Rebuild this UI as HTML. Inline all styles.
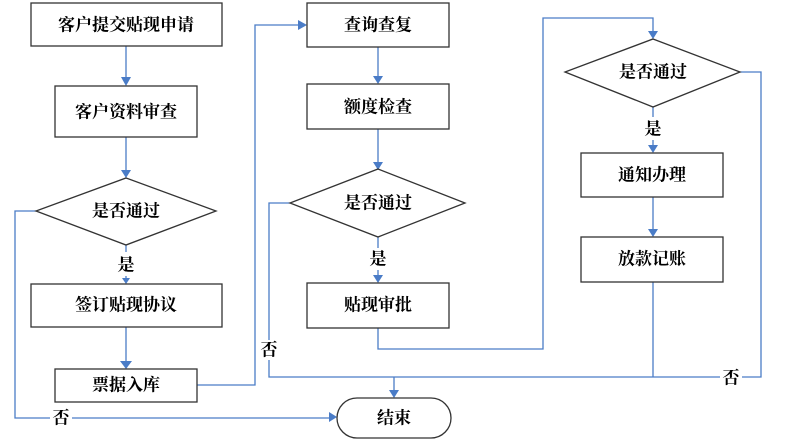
<!DOCTYPE html>
<html><head><meta charset="utf-8"><style>
body{margin:0;background:#fff;}
svg{display:block;}
text{font-family:"Liberation Serif","Noto Serif CJK SC",serif;font-size:17px;font-weight:bold;fill:#000;text-anchor:middle;dominant-baseline:central;}
.b{fill:#fff;stroke:#333;stroke-width:1.3;}
.l{fill:none;stroke:#4a7cc7;stroke-width:1.3;}
.a{fill:#4a7cc7;}
</style></head><body>
<svg width="785" height="444" viewBox="0 0 785 444">
<g class="l">
<path d="M126 46V77"/><path d="M126 137V170"/><path d="M126 245V252M126 276V278"/>
<path d="M126 327V361"/>
<path d="M36 211H15V418H50M72 418H329"/>
<path d="M197 385H255V25H298"/>
<path d="M378 47V76"/><path d="M378 129V162"/><path d="M378 237V248M378 270V277"/>
<path d="M378 328V349H543V18H653V31"/>
<path d="M290 203H269V340M269 360V377H720M742 377H761V72H740"/>
<path d="M653 107V117M653 140V145"/><path d="M653 197V229"/><path d="M653 282V377"/>
<path d="M394 377V390"/>
</g>
<g class="a">
<path d="M121 77H131L126 86Z"/><path d="M121 170H131L126 178Z"/><path d="M122 278H130L126 284Z"/>
<path d="M120 361H132L126 369Z"/>
<path d="M298 20V30L307 25Z"/>
<path d="M373 76H383L378 84Z"/><path d="M373 162H383L378 170Z"/><path d="M373 275H383L378 283Z"/>
<path d="M648 31H658L653 39Z"/><path d="M648 145H658L653 153Z"/><path d="M648 229H658L653 237Z"/>
<path d="M389 390H399L394 398Z"/>
<path d="M329 412V422L337 417Z"/>
</g>
<rect class="b" x="31" y="3" width="191" height="43"/><text x="126" y="25">客户提交贴现申请</text>
<rect class="b" x="55" y="86" width="142" height="51"/><text x="126" y="112">客户资料审查</text>
<path class="b" d="M126 178L216 211L126 245L36 211Z"/><text x="126" y="211">是否通过</text>
<text x="126" y="265">是</text>
<rect class="b" x="31" y="284" width="191" height="43"/><text x="126" y="305">签订贴现协议</text>
<rect class="b" x="55" y="369" width="142" height="33"/><text x="126" y="385">票据入库</text>
<text x="61" y="418">否</text>

<rect class="b" x="307" y="3" width="142" height="44"/><text x="378" y="25">查询查复</text>
<rect class="b" x="307" y="84" width="142" height="45"/><text x="378" y="107">额度检查</text>
<path class="b" d="M378 169L465 203L378 237L290 203Z"/><text x="378" y="203">是否通过</text>
<text x="378" y="259">是</text>
<rect class="b" x="307" y="283" width="142" height="45"/><text x="378" y="305">贴现审批</text>
<text x="269" y="350">否</text>

<path class="b" d="M653 39L740 72L653 107L565 72Z"/><text x="653" y="72">是否通过</text>
<text x="653" y="129">是</text>
<rect class="b" x="581" y="153" width="142" height="44"/><text x="652" y="175">通知办理</text>
<rect class="b" x="581" y="237" width="142" height="45"/><text x="652" y="259">放款记账</text>
<text x="731" y="378">否</text>

<rect class="b" x="337" y="398" width="114" height="40" rx="20"/><text x="394" y="418">结束</text>
</svg>
</body></html>
